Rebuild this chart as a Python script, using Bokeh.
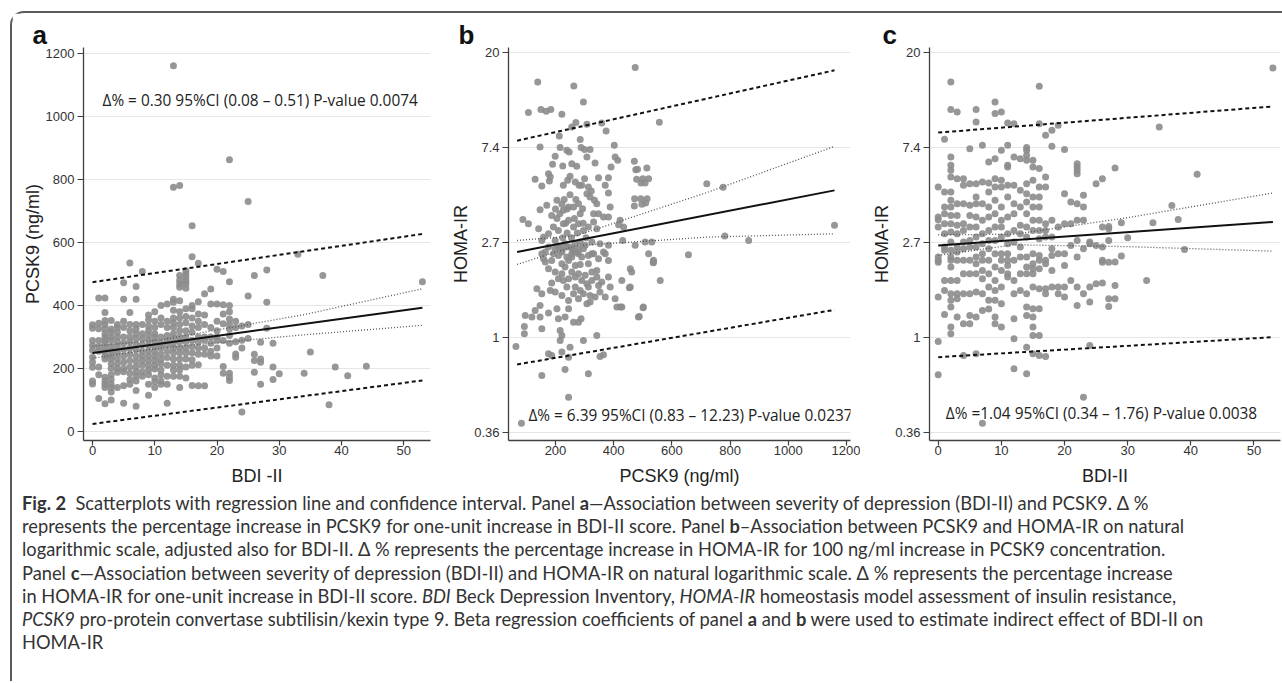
from bokeh.plotting import figure
from bokeh.layouts import row, column
from bokeh.models import Div, FixedTicker
from bokeh.embed import file_html
from bokeh.resources import INLINE
from bokeh.core.properties import value

# ---------------- data ----------------
# Panel a: (BDI-II, PCSK9 ng/ml)
points_a = [
(0,339),(0,328),(0,289),(0,273),(0,258),(0,236),(0,220),(0,204),(0,160),(0,151),
(1,424),(1,344),(1,326),(1,289),(1,270),(1,255),(1,205),(1,180),(1,105),
(2,424),(2,378),(2,352),(2,340),(2,326),(2,310),(2,300),(2,290),(2,280),(2,265),(2,252),(2,240),(2,230),(2,172),(2,160),(2,150),(2,140),(2,88),
(3,352),(3,325),(3,315),(3,300),(3,290),(3,270),(3,255),(3,240),(3,230),(3,215),(3,200),(3,180),(3,165),(3,150),(3,140),(3,125),(3,100),
(4,340),(4,330),(4,315),(4,300),(4,285),(4,270),(4,250),(4,232),(4,215),(4,200),(4,188),(4,140),
(5,472),(5,420),(5,350),(5,330),(5,300),(5,280),(5,260),(5,240),(5,220),(5,200),(5,190),(5,145),(5,90),
(6,535),(6,378),(6,340),(6,320),(6,300),(6,285),(6,265),(6,245),(6,225),(6,205),(6,185),(6,165),(6,150),
(7,460),(7,420),(7,340),(7,325),(7,310),(7,295),(7,275),(7,260),(7,240),(7,222),(7,205),(7,190),(7,175),(7,160),(7,130),(7,80),
(8,508),(8,340),(8,310),(8,295),(8,275),(8,255),(8,240),(8,225),(8,210),(8,190),(8,175),
(9,370),(9,355),(9,335),(9,320),(9,305),(9,290),(9,272),(9,255),(9,240),(9,225),(9,210),(9,195),(9,180),(9,150),(9,115),
(10,380),(10,350),(10,330),(10,310),(10,300),(10,285),(10,270),(10,255),(10,240),(10,225),(10,210),(10,198),(10,170),(10,158),(10,140),
(11,400),(11,360),(11,340),(11,300),(11,280),(11,265),(11,245),(11,228),(11,215),(11,195),(11,180),(11,160),(11,150),
(12,405),(12,350),(12,330),(12,305),(12,290),(12,275),(12,255),(12,235),(12,210),(12,175),(12,150),(12,90),
(13,1161),(13,775),(13,420),(13,410),(13,385),(13,360),(13,345),(13,330),(13,310),(13,295),(13,280),(13,265),(13,250),(13,230),(13,210),(13,195),(13,175),
(14,781),(14,495),(14,480),(14,468),(14,458),(14,415),(14,380),(14,360),(14,340),(14,320),(14,300),(14,285),(14,265),(14,250),(14,230),(14,210),(14,195),(14,175),(14,140),
(15,510),(15,500),(15,490),(15,478),(15,468),(15,455),(15,390),(15,365),(15,345),(15,320),(15,300),(15,285),(15,265),(15,250),(15,230),(15,205),(15,170),
(16,653),(16,555),(16,400),(16,390),(16,360),(16,335),(16,315),(16,290),(16,270),(16,250),(16,228),(16,210),(16,146),
(17,534),(17,412),(17,373),(17,350),(17,330),(17,300),(17,285),(17,265),(17,245),(17,212),(17,145),
(18,437),(18,370),(18,340),(18,300),(18,290),(18,265),(18,245),(18,145),
(19,452),(19,405),(19,330),(19,300),(19,280),(19,255),(19,240),
(20,515),(20,405),(20,350),(20,320),(20,300),(20,290),(20,265),(20,240),
(21,508),(21,402),(21,373),(21,342),(21,289),(21,206),(21,185),
(22,863),(22,475),(22,400),(22,380),(22,357),(22,340),(22,325),(22,305),(22,280),(22,185),(22,172),(22,162),
(23,350),(23,330),(23,285),(23,246),(23,236),
(24,335),(24,290),(24,265),(24,62),
(25,730),(25,430),(25,340),(25,295),
(26,495),(26,245),(26,225),(26,188),
(27,283),(27,230),(27,220),(27,150),
(28,513),(28,410),(28,328),
(29,280),(29,205),(29,165),
(30,183),(33,563),(34,185),(35,252),(37,495),(38,85),(39,205),(41,177),(44,207),(53,475),
]

# Panel b: (PCSK9 ng/ml, ln HOMA-IR)
points_b = [
(474,2.839),(139,2.688),(263,2.646),(296,2.477),(107,2.365),(150,2.397),(168,2.379),(184,2.397),(222,2.348),
(256,2.214),(270,2.260),(308,2.242),(359,2.256),(374,2.172),(557,2.263),(147,2.004),(213,2.12),(216,1.997),
(239,1.969),(247,1.951),(285,2.081),(288,1.997),(300,1.976),(319,1.976),(308,1.898),(336,1.835),(402,2.021),
(405,1.898),(414,1.863),(471,1.853),(476,1.765),(514,1.783),(199,1.905),(190,1.821),(225,1.804),(256,1.828),
(273,1.80),(130,1.663),(153,1.593),(176,1.723),(179,1.646),(182,1.688),(227,1.60),(242,1.653),(250,1.695),
(268,1.635),(281,1.60),(300,1.67),(313,1.583),(323,1.541),(348,1.681),(371,1.60),(382,1.681),(391,1.793),
(382,1.52),(388,1.372),(471,1.383),(497,1.40),(510,1.414),(479,1.663),(494,1.625),(508,1.625),(720,1.618),(776,1.58),
(88,1.242),(107,1.197),(147,1.344),(170,1.39),(187,1.284),(205,1.442),(222,1.40),(227,1.337),(245,1.372),
(262,1.372),(279,1.407),(293,1.355),(308,1.512),(319,1.477),(334,1.442),(342,1.407),(331,1.302),(348,1.302),
(365,1.267),(382,1.267),(417,1.186),(434,1.161),(422,1.232),
(142,1.144),(159,1.056),(176,1.091),(193,1.161),(210,1.126),(227,1.196),(245,1.232),(262,1.161),(279,1.196),
(296,1.126),(313,1.161),(331,1.214),(342,1.144),
(153,1.021),(199,1.021),(216,0.951),(233,0.986),(250,0.951),(268,0.986),(285,1.004),(302,0.969),(325,1.004),
(353,0.986),(382,0.969),
(165,0.898),(193,0.881),(222,0.898),(239,0.846),(256,0.881),(273,0.898),(290,0.846),(325,0.881),(365,0.898),
(474,0.969),(531,1.004),(508,1.004),(520,0.881),(657,0.87),(537,0.811),
(205,1.25),(215,1.3),(235,1.2),(240,1.1),(255,1.05),(265,1.25),(275,1.1),(285,1.3),(295,1.2),(305,1.05),
(230,1.45),(250,1.5),(210,0.95),(260,0.92),(280,0.93),(240,1.35),(225,1.05),(270,1.45),(200,1.35),(290,1.6),
(1159,1.179),(782,1.066),(864,1.02),(431,1.02),(536,0.786),(488,0.221),(501,0.312),(454,0.523),(423,0.319),
(482,1.77),(500,1.67),(520,1.67),(472,1.46),(493,1.46),(515,1.46),
(153,0.881),(159,0.828),(165,0.793),(187,0.81),(210,0.863),(222,0.775),(233,0.74),(245,0.81),(256,0.846),
(268,0.758),(285,0.768),(313,0.775),(331,0.881),(348,0.828),(371,0.881),(382,0.81),(537,0.793),(457,0.723),(462,0.688),
(136,0.512),(153,0.46),(187,0.572),(210,0.617),(227,0.6),(245,0.617),(268,0.635),(290,0.6),(308,0.565),
(325,0.6),(342,0.705),(348,0.547),(359,0.582),(382,0.635),(388,0.53),(428,0.6),(457,0.53),(560,0.6),
(182,0.495),(199,0.477),(222,0.442),(245,0.389),(262,0.46),(279,0.407),(296,0.46),(319,0.442),(336,0.425),
(353,0.477),(371,0.425),(405,0.407),(411,0.319),(428,0.319),(502,0.319),(485,0.214),
(96,0.232),(119,0.214),(130,0.284),(147,0.337),(147,0.214),(176,0.256),(205,0.302),(210,0.196),(233,0.214),
(245,0.302),(262,0.161),(279,0.161),(288,0.196),(308,0.354),(319,0.372),
(93,0.116),(93,0.039),(153,0.091),(216,0.074),(222,0.021),(216,-0.032),(296,-0.032),(342,0.021),
(64,-0.095),(176,-0.172),(187,-0.19),(222,-0.154),(250,-0.102),(245,-0.207),(353,-0.2),(365,-0.182),
(153,-0.4),(233,-0.337),(313,-0.382),(245,-0.628),(83,-0.902),
(176,0.951),(199,0.933),(222,0.916),(239,0.951),(262,0.916),(279,0.881),(296,0.933),(313,0.863),(176,0.723),
(199,0.688),(222,0.67),(256,0.688),(279,0.67),(302,0.653),(325,0.688),(342,0.635),(268,0.53),(285,0.495),
(313,0.53),(239,0.53),
]

# Panel c: (BDI-II, ln HOMA-IR)
points_c = [
(0,1.583),(0,1.267),(0,1.239),(0,1.161),(0,0.846),(0,0.811),(0,0.79),(0,0.425),(0,-0.042),(0,-0.393),
(1,2.084),(1,1.53),(1,1.372),(1,1.302),(1,1.197),(1,1.091),(1,0.951),(1,0.916),(1,0.6),(1,0.495),(1,0.242),
(2,2.688),(2,2.397),(2,1.898),(2,1.811),(2,1.758),(2,1.688),(2,1.53),(2,1.442),(2,1.372),(2,1.284),(2,1.197),
(2,1.109),(2,1.004),(2,0.916),(2,0.846),(2,0.811),(2,0.74),(2,0.6),(2,0.46),(2,0.39),(2,0.32),(2,0.109),(2,0.039),
(3,2.372),(3,1.67),(3,1.407),(3,1.284),(3,1.179),(3,1.091),(3,0.951),(3,0.898),(3,0.811),(3,0.6),(3,0.46),(3,0.407),(3,0.214),
(4,1.67),(4,1.6),(4,1.407),(4,1.197),(4,1.126),(4,1.004),(4,0.934),(4,0.811),(4,0.67),(4,0.46),(4,0.144),(4,-0.189),
(5,1.986),(5,1.618),(5,1.39),(5,1.284),(5,1.161),(5,1.021),(5,0.951),(5,0.811),(5,0.67),(5,0.46),(5,0.232),(5,0.144),
(6,2.397),(6,2.267),(6,1.618),(6,1.477),(6,1.407),(6,1.267),(6,1.161),(6,1.056),(6,0.951),(6,0.846),(6,0.776),(6,0.67),(6,0.477),(6,0.214),(6,-0.172),
(7,2.021),(7,1.635),(7,1.407),(7,1.232),(7,1.091),(7,0.986),(7,0.881),(7,0.811),(7,0.705),(7,0.618),(7,0.46),(7,0.284),(7,-0.902),
(8,1.846),(8,1.625),(8,1.53),(8,1.372),(8,1.267),(8,1.126),(8,1.021),(8,0.934),(8,0.811),(8,0.67),(8,0.53),(8,0.39),(8,0.30),
(9,2.477),(9,2.355),(9,1.881),(9,1.67),(9,1.583),(9,1.442),(9,1.302),(9,1.161),(9,1.021),(9,0.881),(9,0.74),(9,0.6),(9,0.495),(9,0.39),(9,0.214),(9,0.144),
(10,2.372),(10,1.969),(10,1.653),(10,1.583),(10,1.372),(10,1.232),(10,1.161),(10,1.056),(10,0.881),(10,0.811),(10,0.705),(10,0.53),(10,0.355),(10,0.109),
(11,2.256),(11,2.021),(11,1.811),(11,1.793),(11,1.6),(11,1.477),(11,1.267),(11,1.091),(11,0.986),(11,0.881),(11,0.811),(11,0.758),(11,0.67),(11,0.635),
(12,2.249),(12,1.898),(12,1.6),(12,1.407),(12,1.302),(12,1.126),(12,1.004),(12,0.811),(12,0.6),(12,0.46),(12,0.197),(12,-0.014),(12,-0.33),
(13,1.881),(13,1.548),(13,1.372),(13,1.179),(13,1.091),(13,0.951),(13,0.846),(13,0.67),(13,0.495),
(14,1.997),(14,1.969),(14,1.916),(14,1.863),(14,1.618),(14,1.512),(14,1.425),(14,1.302),(14,1.161),(14,1.056),
(14,0.846),(14,0.74),(14,0.67),(14,0.46),(14,0.32),(14,0.232),(14,-0.102),(14,-0.382),
(15,1.863),(15,1.793),(15,1.653),(15,1.477),(15,1.372),(15,1.232),(15,1.126),(15,0.881),(15,0.776),(15,0.723),
(15,0.67),(15,0.53),(15,0.302),(15,0.214),(15,0.109),(15,0.021),(15,-0.172),
(16,2.642),(16,2.249),(16,1.776),(16,1.583),(16,1.477),(16,1.372),(16,1.232),(16,1.126),(16,1.039),(16,0.863),
(16,0.811),(16,0.723),(16,0.512),(16,0.302),(16,0.021),(16,-0.189),
(17,2.126),(17,1.688),(17,1.583),(17,1.197),(17,1.126),(17,1.056),(17,0.811),(17,0.776),(17,0.512),(17,0.46),(17,-0.2),
(18,2.179),(18,2.011),(18,1.232),(18,1.056),(18,0.934),(18,0.863),(18,0.705),(18,0.53),
(19,2.232),(19,1.161),(19,0.881),(19,0.53),(19,0.46),
(20,1.976),(20,1.512),(20,1.197),(20,0.881),(20,0.758),(20,0.53),(20,0.425),
(21,1.425),(21,1.197),(21,0.968),(21,0.6),
(22,1.828),(22,1.793),(22,1.758),(22,1.723),(22,1.407),(22,1.232),(22,1.021),(22,0.846),(22,0.53),(22,0.337),
(23,1.495),(23,1.372),(23,1.232),(23,0.934),(23,0.46),(23,-0.628),
(24,1.004),(24,0.986),(24,0.53),(24,0.372),(24,-0.084),
(25,1.618),(25,0.968),(25,0.565),
(26,1.67),(26,1.161),(26,0.951),(26,0.811),(26,0.79),(26,0.572),
(27,1.168),(27,1.144),(27,1.021),(27,0.79),(27,0.407),(27,0.326),
(28,1.783),(28,0.793),(28,0.547),(28,0.407),
(29,1.207),(29,0.856),(30,1.049),(33,0.6),(34,1.207),(35,2.214),(37,1.389),(38,1.242),(39,0.926),(41,1.716),(53,2.835),
]

# Regression fits, confidence (dotted) and prediction (dashed) bands
fit_a_x = [0, 53];          fit_a_y = [249, 393]
ci_a_x = [0, 11, 34, 53];   ci_a_hi = [271, 291, 371, 453]; ci_a_lo = [233, 265, 307, 337]
pi_a_x = [0, 53];           pi_a_hi = [474, 627];           pi_a_lo = [24, 162]

fit_b_x = [68, 1159];       fit_b_y = [0.898, 1.547]
ci_b_x = [68, 270, 726, 1159]; ci_b_hi = [1.02, 1.07, 1.53, 2.01]; ci_b_lo = [0.768, 0.965, 1.056, 1.09]
pi_b_x = [68, 1159];        pi_b_hi = [2.07, 2.81];         pi_b_lo = [-0.284, 0.29]

fit_c_x = [0, 53];          fit_c_y = [0.968, 1.214]
ci_c_x = [0, 12, 30, 53];   ci_c_hi = [1.08, 1.085, 1.26, 1.519]; ci_c_lo = [0.863, 0.975, 0.955, 0.908]
pi_c_x = [0, 53];           pi_c_hi = [2.155, 2.43];        pi_c_lo = [-0.207, 0.003]

ticks_bdi = [0, 10, 20, 30, 40, 50]
ticks_pcsk9_y = [0, 200, 400, 600, 800, 1000, 1200]
ticks_pcsk9_x = [200, 400, 600, 800, 1000, 1200]
ticks_ln_homa = [-1, 0, 1, 2, 3]
labels_homa = ["0.36", "1", "2.7", "7.4", "20"]

note_a = "\u0394% = 0.30 95%CI (0.08 \u2013 0.51) P-value 0.0074"
note_b = "\u0394% = 6.39 95%CI (0.83 \u2013 12.23) P-value 0.0237"
note_c = "\u0394% =1.04 95%CI (0.34 \u2013 1.76) P-value 0.0038"

# ---------------- styling ----------------
DOT = "#8c8c8c"
AX = "#404040"
TICKFONT = "Liberation Sans"


def make_panel(width, bl, br, xr, yr, letter, loff, xlabel, ylabel, xticks, yticks, ylabels=None):
    p = figure(width=width, height=479, x_range=xr, y_range=yr,
               output_backend="svg", toolbar_location=None,
               min_border_left=bl, min_border_right=br, min_border_top=34, min_border_bottom=52,
               outline_line_color=None, background_fill_color="white", border_fill_color="white")
    p.title.text = letter
    p.title.text_font = "Liberation Sans"
    p.title.text_font_size = "26px"
    p.title.text_font_style = "bold"
    p.title.text_color = "#111111"
    p.title.align = "left"
    p.title.offset = loff
    p.title.standoff = -5
    for ax in p.axis:
        ax.axis_line_color = AX
        ax.axis_line_width = 1.3
        ax.major_tick_line_color = AX
        ax.major_tick_line_width = 1.2
        ax.major_tick_in = 0
        ax.minor_tick_line_color = None
        ax.major_label_text_font = TICKFONT
        ax.major_label_text_font_size = "13px"
        ax.major_label_text_color = "#333333"
        ax.axis_label_text_font = TICKFONT
        ax.axis_label_text_font_size = "18px"
        ax.axis_label_text_font_style = "normal"
        ax.axis_label_text_color = "#222222"
    p.xaxis.major_tick_out = 5
    p.xaxis.major_label_standoff = 0
    p.xaxis.axis_label_standoff = 8
    p.yaxis.major_tick_out = 6
    p.yaxis.major_label_standoff = 3
    p.yaxis.axis_label_standoff = 0
    p.xaxis.axis_label = xlabel
    p.yaxis.axis_label = ylabel
    p.xaxis.ticker = FixedTicker(ticks=xticks)
    p.yaxis.ticker = FixedTicker(ticks=yticks)
    p.xgrid.grid_line_color = None
    p.ygrid.ticker = FixedTicker(ticks=yticks)
    p.ygrid.grid_line_color = "#e6e6e6"
    p.ygrid.grid_line_width = 1
    if ylabels is not None:
        p.yaxis.major_label_overrides = {t: s for t, s in zip(yticks, ylabels)}
    return p


def draw(p, pts, fx, fy, cx, chi, clo, px, phi, plo, note, nx, ny):
    xs = [a for a, b in pts]
    ys = [b for a, b in pts]
    p.scatter(xs, ys, size=7, fill_color=DOT, fill_alpha=0.9, line_color=None)
    p.line(cx, chi, line_color="#555555", line_width=1.3, line_dash="1 2")
    p.line(cx, clo, line_color="#555555", line_width=1.3, line_dash="1 2")
    p.line(px, phi, line_color="#111111", line_width=2, line_dash="4 3")
    p.line(px, plo, line_color="#111111", line_width=2, line_dash="4 3")
    p.line(fx, fy, line_color="#111111", line_width=2)
    p.text(x=[nx], y=[ny], text=[note], text_font=value("Open Sans"), text_font_size="15.4px",
           text_baseline="middle", text_align="left", text_color="#222222")


pa = make_panel(428, 71, 10, (-1.45, 54.3), (-28.6, 1219), "a", -51,
                "BDI -II", "PCSK9 (ng/ml)", ticks_bdi, ticks_pcsk9_y)
draw(pa, points_a, fit_a_x, fit_a_y, ci_a_x, ci_a_hi, ci_a_lo, pi_a_x, pi_a_hi, pi_a_lo, note_a, 1.6, 1051)

pb = make_panel(420, 68, 10, (38.5, 1214), (-1.084, 3.05), "b", -50,
                "PCSK9 (ng/ml)", "HOMA-IR", ticks_pcsk9_x, ticks_ln_homa, labels_homa)
draw(pb, points_b, fit_b_x, fit_b_y, ci_b_x, ci_b_hi, ci_b_lo, pi_b_x, pi_b_hi, pi_b_lo, note_b, 107, -0.82)

pc = make_panel(422, 69, 2, (-1.38, 54.2), (-1.084, 3.05), "c", -47,
                "BDI-II", "HOMA-IR", ticks_bdi, ticks_ln_homa, labels_homa)
draw(pc, points_c, fit_c_x, fit_c_y, ci_c_x, ci_c_hi, ci_c_lo, pi_c_x, pi_c_hi, pi_c_lo, note_c, 1.2, -0.80)

caption_lines = [
    "<b>Fig.&nbsp;2</b>&nbsp;&nbsp;Scatterplots with regression line and confidence interval. Panel <b>a</b>\u2014Association between severity of depression (BDI-II) and PCSK9. \u0394 %",
    "represents the percentage increase in PCSK9 for one-unit increase in BDI-II score. Panel <b>b</b>\u2013Association between PCSK9 and HOMA-IR on natural",
    "logarithmic scale, adjusted also for BDI-II. \u0394 % represents the percentage increase in HOMA-IR for 100 ng/ml increase in PCSK9 concentration.",
    "Panel <b>c</b>\u2014Association between severity of depression (BDI-II) and HOMA-IR on natural logarithmic scale. \u0394 % represents the percentage increase",
    "in HOMA-IR for one-unit increase in BDI-II score. <i>BDI</i> Beck Depression Inventory, <i>HOMA-IR</i> homeostasis model assessment of insulin resistance,",
    "<i>PCSK9</i> pro-protein convertase subtilisin/kexin type 9. Beta regression coefficients of panel <b>a</b> and <b>b</b> were used to estimate indirect effect of BDI-II on",
    "HOMA-IR",
]
caption_html = ('<div style="font-family:Lato, \'Open Sans\', sans-serif; font-size:18.3px; line-height:23.2px; '
                'color:#333333; padding:0 0 0 10px; white-space:nowrap;">'
                + "<br>".join(caption_lines) + "</div>")
cap = Div(text=caption_html, width=1270, height=189, margin=(0, 0, 0, 0))

figs = row(pa, pb, pc, spacing=0)
layout = column(figs, cap, spacing=0,
                styles={"border-top": "2px solid #5a5a5a", "border-left": "2px solid #5a5a5a",
                        "border-top-left-radius": "14px", "margin-left": "10px", "margin-top": "11px",
                        "background-color": "white"})

open("out.html", "w").write(file_html(layout, INLINE))
